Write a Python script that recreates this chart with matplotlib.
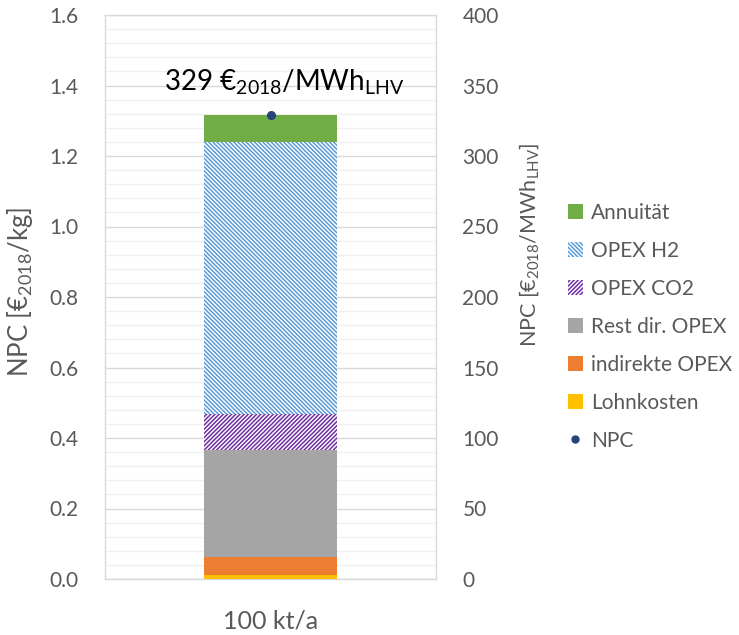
import matplotlib
matplotlib.use("Agg")
import matplotlib.pyplot as plt
import numpy as np
from matplotlib.patches import Patch
from matplotlib.lines import Line2D

plt.rcParams['font.family'] = ['Lato', 'DejaVu Sans']
plt.rcParams['mathtext.fontset'] = 'custom'
plt.rcParams['mathtext.rm'] = 'Lato'
plt.rcParams['mathtext.it'] = 'Lato'
plt.rcParams['mathtext.bf'] = 'Lato'
plt.rcParams['hatch.linewidth'] = 1.1

# ---- data ----
categories = ['100 kt/a']
lohnkosten = [0.012]
indirekte_opex = [0.050]
rest_dir_opex = [0.305]
opex_co2 = [0.102]
opex_h2 = [0.771]
annuitaet = [0.076]
npc_kg = [1.316]
npc_mwh_label = 329
left_ticks = [0.0, 0.2, 0.4, 0.6, 0.8, 1.0, 1.2, 1.4, 1.6]
right_ticks = [0, 50, 100, 150, 200, 250, 300, 350, 400]

gray_txt = '#595959'

fig = plt.figure(figsize=(7.39, 6.35), dpi=100)
ax = fig.add_axes([105/739, 56/635, 331/739, 564/635])

x = np.arange(len(categories))
w = 0.4
segments = [
    (lohnkosten, dict(color='#FFC000'), 'Lohnkosten'),
    (indirekte_opex, dict(color='#ED7D31'), 'indirekte OPEX'),
    (rest_dir_opex, dict(color='#A5A5A5'), 'Rest dir. OPEX'),
    (opex_co2, dict(facecolor='white', edgecolor='#7030A0', hatch='/' * 8), 'OPEX CO2'),
    (opex_h2, dict(facecolor='white', edgecolor='#5B9BD5', hatch='\\' * 8), 'OPEX H2'),
    (annuitaet, dict(color='#70AD47'), 'Annuität'),
]
bottom = np.zeros(len(categories))
handles = []
for vals, style, lab in segments:
    ax.bar(x, vals, w, bottom=bottom, linewidth=0, zorder=3, **style)
    bottom = bottom + np.array(vals)
    handles.append(Patch(linewidth=0, label=lab, **style))

ax.plot(x, npc_kg, 'o', color='#264478', ms=5.5, zorder=5)
handles = handles[::-1]
handles.append(Line2D([], [], marker='o', color='#264478', ls='none', ms=5, label='NPC'))

ax.text(0.041, 1.386, r'%d €$_{2018}$/MWh$_{\mathrm{LHV}}$' % npc_mwh_label,
        ha='center', va='baseline', fontsize=20, color='black', zorder=6)

ax.set_xlim(-0.5, 0.5)
ax.set_ylim(0, 1.6)
ax.set_yticks(left_ticks)
ax.set_yticklabels(['%.1f' % t for t in left_ticks])
ax.set_yticks(np.arange(0, 1.6001, 0.04), minor=True)
ax.set_xticks(x)
ax.set_xticklabels(categories)
ax.grid(axis='y', which='major', color='#d9d9d9', lw=1.0, zorder=0)
ax.grid(axis='y', which='minor', color='#f0f0f0', lw=1.0, zorder=0)
ax.tick_params(axis='y', which='both', length=0, pad=19, labelsize=15, labelcolor=gray_txt)
ax.tick_params(axis='x', length=0, pad=22, labelsize=18, labelcolor=gray_txt)
for s in ax.spines.values():
    s.set_color('#d9d9d9')
    s.set_linewidth(1.0)
ax.set_ylabel(r'NPC [€$_{2018}$/kg]', fontsize=18.5, color=gray_txt)
ax.yaxis.set_label_coords(-0.212, 0.509)

ax2 = ax.twinx()
ax2.set_ylim(0, 400)
ax2.set_yticks(right_ticks)
ax2.set_yticklabels([str(t) for t in right_ticks])
ax2.tick_params(axis='y', length=0, pad=19, labelsize=15, labelcolor=gray_txt)
for s in ax2.spines.values():
    s.set_visible(False)
ax2.set_ylabel(r'NPC [€$_{2018}$/MWh$_{\mathrm{LHV}}$]', fontsize=15.5, color=gray_txt)
ax2.yaxis.set_label_coords(1.245, 0.592)

leg = fig.legend(handles=handles, loc='upper left', bbox_to_anchor=(568/739, 1 - 203/635),
                 frameon=False, fontsize=15, handlelength=0.7, handleheight=0.7,
                 handletextpad=0.4, labelspacing=0.86, borderaxespad=0, borderpad=0)
for t in leg.get_texts():
    t.set_color(gray_txt)

fig.savefig('out.png', dpi=100)
